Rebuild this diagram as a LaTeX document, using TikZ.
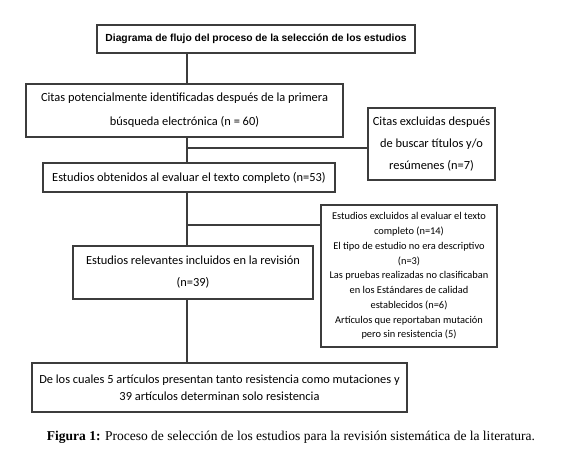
\documentclass[tikz,border=0pt]{standalone}
\usepackage{fontspec}
\setmainfont{Liberation Serif}
\newfontfamily\calfont{Carlito}
\newfontfamily\arfont{Liberation Sans}
\definecolor{ln}{HTML}{3C3C3C}
\begin{document}
\begin{tikzpicture}[x=1pt,y=-1pt,
  box/.style={draw=ln,line width=1.3pt,inner sep=0pt,align=center,text=black},
  conn/.style={draw=ln,line width=1.3pt}]
\useasboundingbox (0,0) rectangle (580,454);
\node[box,minimum width=318pt,minimum height=28pt,font=\arfont\bfseries\fontsize{10.3}{12}\selectfont] (b1) at (256,39)
  {Diagrama de flujo del proceso de la selección de los estudios};
\node[box,minimum width=317pt,minimum height=53pt,font=\calfont\fontsize{12.4}{24}\selectfont] (b2) at (184.5,110.5)
  {Citas potencialmente identificadas después de la primera\\búsqueda electrónica (n = 60)};
\node[box,minimum width=127pt,minimum height=72pt,font=\calfont\fontsize{12.4}{21.7}\selectfont] (b3) at (431.5,144)
  {Citas excluidas después\\de buscar títulos y/o\\resúmenes (n=7)};
\node[box,minimum width=292pt,minimum height=29pt,font=\calfont\fontsize{12.4}{14}\selectfont] (b4) at (189,177.5)
  {Estudios obtenidos al evaluar el texto completo (n=53)};
\node[box,minimum width=176pt,minimum height=142pt,font=\calfont\fontsize{10.4}{14.75}\selectfont] (b5) at (409,276)
  {Estudios excluidos al evaluar el texto\\completo (n=14)\\El tipo de estudio no era descriptivo\\(n=3)\\Las pruebas realizadas no clasificaban\\en los Estándares de calidad\\establecidos (n=6)\\Artículos que reportaban mutación\\pero sin resistencia (5)};
\node[box,minimum width=240pt,minimum height=53pt,font=\calfont\fontsize{12.4}{22}\selectfont] (b6) at (193,272.5)
  {Estudios relevantes incluidos en la revisión\\(n=39)};
\node[box,minimum width=375pt,minimum height=49pt,font=\calfont\fontsize{12.4}{17}\selectfont] (b7) at (219.5,387.5)
  {De los cuales 5 artículos presentan tanto resistencia como mutaciones y\\39 artículos determinan solo resistencia};
\node[inner sep=0pt,font=\fontsize{13.5}{15}\selectfont] (cap) at (291,437)
  {\textbf{Figura 1:} Proceso de selección de los estudios para la revisión sistemática de la literatura.};
\coordinate (sp) at (187,0);
\coordinate (j1) at (187,148);
\coordinate (j2) at (187,225);
\draw[conn] (b1.south -| sp) -- (b2.north -| sp);
\draw[conn] (b2.south -| sp) -- (b4.north -| sp);
\draw[conn] (b4.south -| sp) -- (b6.north -| sp);
\draw[conn] (b6.south -| sp) -- (b7.north -| sp);
\draw[conn] (j1) -- (j1 -| b3.west);
\draw[conn] (j2) -- (j2 -| b5.west);
\end{tikzpicture}
\end{document}
